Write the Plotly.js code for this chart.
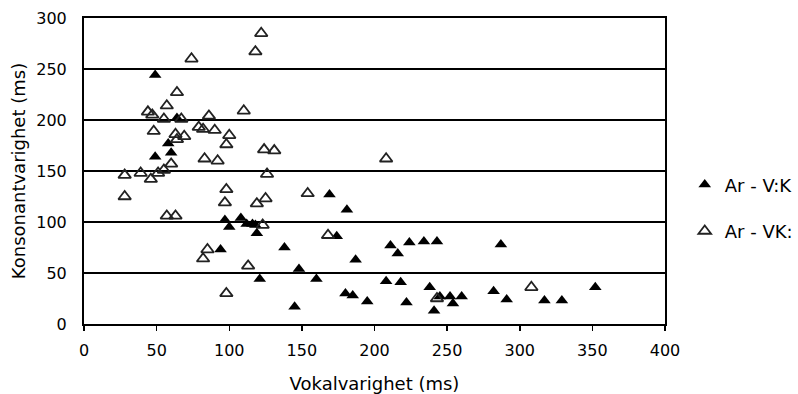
<!DOCTYPE html>
<html>
<head>
<meta charset="utf-8">
<script src="https://cdn.plot.ly/plotly-3.0.1.min.js"></script>
<style>html,body{margin:0;padding:0;background:#fff;}#chart{width:798px;height:394px;}</style>
</head>
<body>
<div id="chart"></div>
<script>
// Ar - V:K (filled triangles)
const vkX = [49, 64, 58, 60, 49, 97, 100, 108, 112, 116, 118, 119, 94, 121, 138, 148, 145, 169, 181, 174, 187, 160, 180, 185, 195, 211, 216, 224, 234, 243, 287, 208, 218, 222, 238, 245, 241, 252, 254, 260, 282, 291, 317, 329, 352];
const vkY = [244, 202, 177, 168, 164, 102, 95, 104, 98, 98, 97, 89, 73, 44, 75, 54, 17, 127, 112, 86, 63, 44, 30, 28, 22, 77, 69, 80, 81, 81, 78, 42, 41, 21, 36, 27, 13, 27, 20, 27, 32, 24, 23, 23, 36];
// Ar - VK: (open triangles)
const vk2X = [122, 118, 74, 64, 57, 44, 47, 55, 67, 86, 110, 48, 63, 69, 64, 79, 82, 90, 100, 98, 83, 92, 60, 55, 51, 46, 39, 28, 28, 124, 131, 126, 98, 97, 119, 125, 154, 208, 168, 123, 57, 63, 85, 82, 113, 98, 308, 243];
const vk2Y = [285, 267, 260, 227, 214, 208, 205, 201, 201, 204, 209, 189, 186, 184, 181, 193, 191, 190, 185, 176, 162, 160, 157, 151, 148, 142, 148, 146, 125, 171, 170, 147, 132, 119, 118, 123, 128, 162, 87, 97, 106, 106, 73, 64, 57, 30, 36, 25];
const seriesNames = ['Ar - V:K', 'Ar - VK:'];
const xTicks = [0, 50, 100, 150, 200, 250, 300, 350, 400];
const yTicks = [0, 50, 100, 150, 200, 250, 300];

const font = 'DejaVu Sans, sans-serif';
const traces = [
  {x: vkX, y: vkY, name: seriesNames[0], type: 'scatter', mode: 'markers', legendgroup: 'a',
   marker: {symbol: 'triangle-up', size: 11, color: '#000', line: {width: 0}}},
  {x: vk2X, y: vk2Y, name: seriesNames[1], type: 'scatter', mode: 'markers', legendgroup: 'b',
   marker: {symbol: 'triangle-up-open', size: 11, color: '#222', line: {width: 1.8}}}
];
const layout = {
  width: 798, height: 394,
  margin: {l: 84, r: 133, t: 18, b: 70, autoexpand: false},
  paper_bgcolor: '#fff', plot_bgcolor: '#fff',
  font: {family: font, size: 16, color: '#000'},
  showlegend: true,
  legend: {x: 1.034, xanchor: 'left', y: 0.515, yanchor: 'top', font: {family: font, size: 18, color: '#000'},
           tracegroupgap: 20, itemwidth: 30, bgcolor: 'rgba(0,0,0,0)'},
  xaxis: {range: [0, 400], tickvals: xTicks, ticktext: xTicks.map(String), showgrid: false, zeroline: false,
          showline: true, linecolor: '#000', linewidth: 2, mirror: true,
          ticks: 'outside', ticklen: 5, tickwidth: 1.5, tickcolor: '#000', ticklabelstandoff: 6,
          tickfont: {family: font, size: 16, color: '#000'},
          title: {text: 'Vokalvarighet (ms)', font: {family: font, size: 18, color: '#000'}, standoff: 18}},
  yaxis: {range: [0, 300], tickvals: yTicks, ticktext: yTicks.map(String), showgrid: true, gridcolor: '#000', gridwidth: 1.5,
          zeroline: false, showline: true, linecolor: '#000', linewidth: 2, mirror: true, ticks: '',
          ticklabelstandoff: 12,
          tickfont: {family: font, size: 16, color: '#000'},
          title: {text: 'Konsonantvarighet (ms)', font: {family: font, size: 18, color: '#000'}, standoff: 6}}
};
Plotly.newPlot('chart', traces, layout, {displayModeBar: false, staticPlot: true});
</script>
</body>
</html>
